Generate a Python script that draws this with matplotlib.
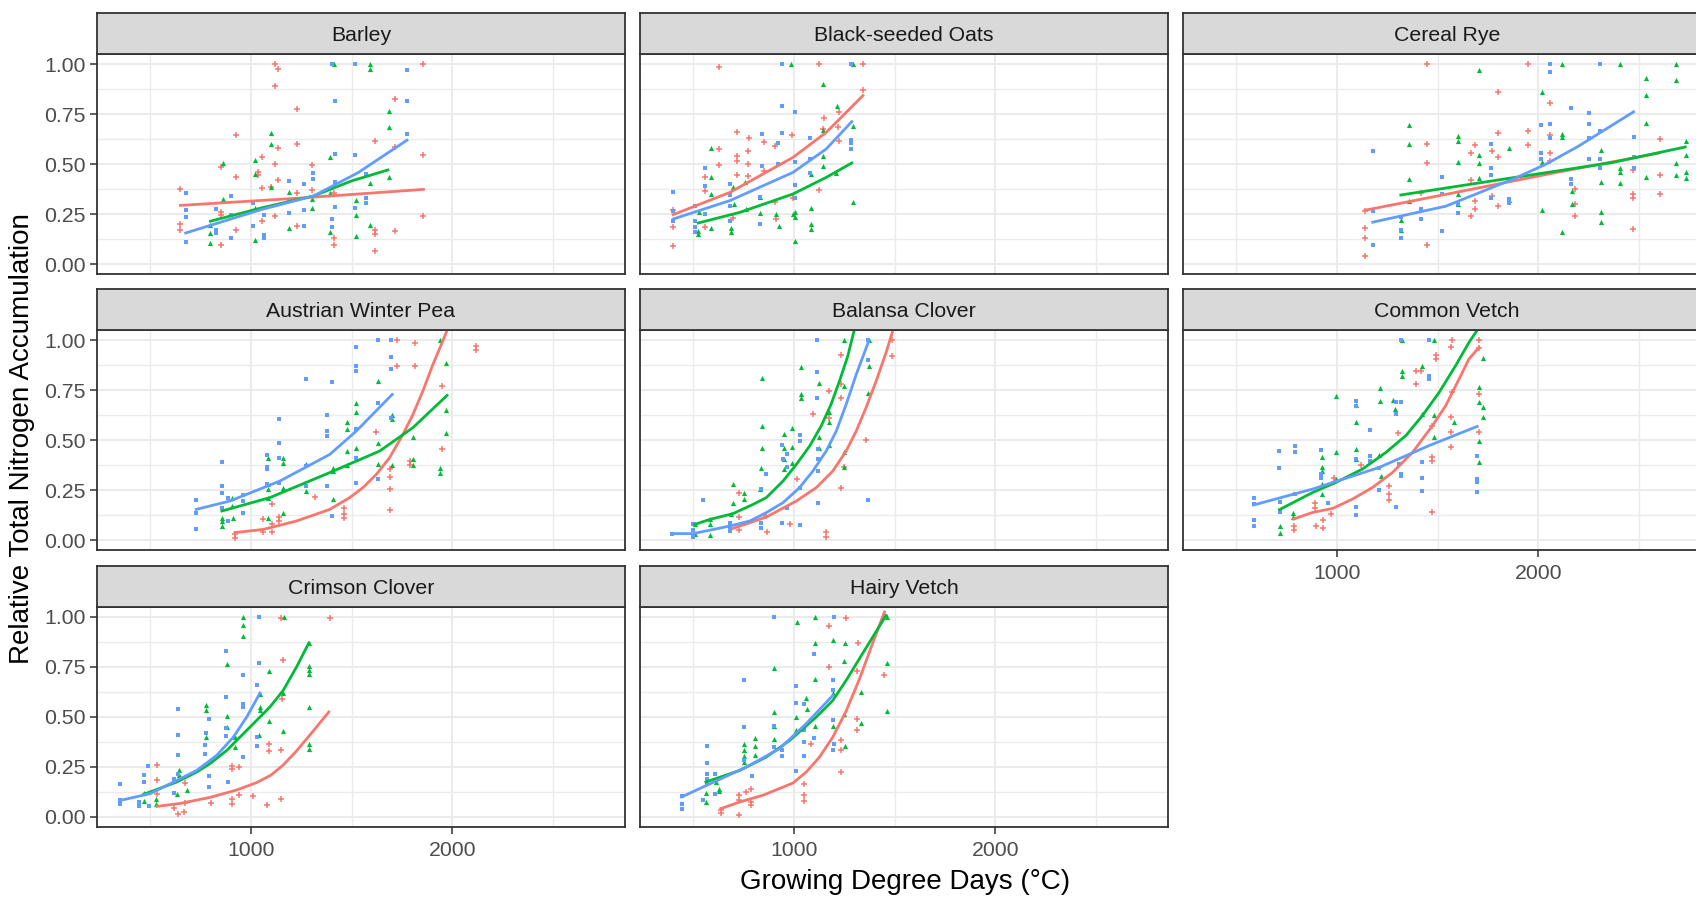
import matplotlib
matplotlib.use("Agg")
import matplotlib.pyplot as plt

plt.rcParams['font.family'] = ['Liberation Sans', 'DejaVu Sans']

# facet names, in facet_wrap order (3 columns)
panels = ["Barley", "Black-seeded Oats", "Cereal Rye",
          "Austrian Winter Pea", "Balansa Clover", "Common Vetch",
          "Crimson Clover", "Hairy Vetch"]
x_ticks = [1000, 2000]
x_minor = [500, 1500, 2500]
y_ticks = [0.00, 0.25, 0.50, 0.75, 1.00]
y_minor = [0.125, 0.375, 0.625, 0.875]
y_tick_labels = ["0.00", "0.25", "0.50", "0.75", "1.00"]
x_label = "Growing Degree Days (°C)"
y_label = "Relative Total Nitrogen Accumulation"

barley_red = [(1119, 1.0), (1133, .975), (1119, .888), (1227, .774), (928, .644), (1227, .602), (1133, .579),
              (1054, .537), (1119, .502), (1305, .493), (850, .485), (928, .435), (1037, .462), (1037, .445),
              (1133, .42), (1054, .378), (1099, .386), (1227, .356), (1305, .37), (650, .376), (850, .261),
              (850, .247), (928, .172), (1054, .217), (1119, .239), (1227, .189), (650, .202), (650, .169),
              (850, .094), (1413, .13), (1413, .094), (1614, .172), (1614, .15), (1614, .067), (1713, .167),
              (1713, .824), (1713, .587), (1614, .615), (1856, 1.0), (1856, .543), (1856, .239), (1413, .356)]
barley_green = [(1413, 1.0), (1590, 1.0), (1590, .975), (1684, .763), (1684, .687), (1099, .657), (1099, .602),
                (863, .503), (1020, .518), (1020, .448), (1099, .386), (1191, .361), (1305, .326), (1305, .281),
                (1392, .537), (1392, .356), (1520, .32), (1520, .247), (1590, .406), (1684, .435), (1590, .194),
                (1520, .139), (1392, .159), (1191, .181), (1020, .281), (1020, .119), (863, .323), (799, .197),
                (799, .155), (799, .105)]
barley_blue = [(1404, 1.0), (1515, 1.0), (1774, .97), (1418, .813), (1774, .816), (1774, .652), (1418, .552),
               (1515, .543), (1571, .448), (1307, .457), (1307, .423), (1187, .415), (1263, .398), (1418, .41),
               (901, .34), (828, .273), (901, .247), (676, .356), (676, .269), (676, .234), (676, .11), (828, .172),
               (828, .155), (901, .13), (1012, .306), (1012, .189), (1063, .247), (1063, .147), (1063, .13),
               (1187, .314), (1187, .256), (1263, .269), (1263, .189), (1404, .226), (1404, .186), (1418, .286),
               (1515, .278), (1571, .331), (1571, .306)]

oats_red = [(629, .983), (1122, 1.0), (1342, 1.0), (1342, .87), (715, .66), (777, .63), (629, .575), (715, .54),
            (715, .517), (772, .567), (772, .5), (629, .495), (850, .61), (908, .59), (992, .645), (1148, .73),
            (1221, .76), (1219, .687), (1223, .617), (1144, .675), (559, .437), (558, .367), (715, .445),
            (772, .438), (850, .463), (1122, .372), (401, .272), (401, .183), (401, .092), (559, .183),
            (695, .228), (913, .225), (995, .332), (908, .308)]
oats_green = [(987, 1.0), (1292, 1.0), (1142, .90), (1213, .79), (1142, .67), (1292, .69), (587, .58), (587, .437),
              (1142, .54), (1142, .49), (1210, .455), (1084, .45), (756, .41), (698, .383), (587, .35), (830, .333),
              (1292, .308), (701, .30), (764, .275), (830, .255), (1007, .258), (1084, .278), (913, .25),
              (926, .19), (995, .25), (1007, .233), (530, .258), (525, .167), (525, .15), (587, .18), (690, .18),
              (690, .158), (1084, .20), (1084, .175), (1007, .117)]
oats_blue = [(942, 1.0), (1284, 1.0), (942, .79), (1007, .76), (842, .65), (942, .653), (1081, .628), (921, .603),
             (1284, .62), (1284, .603), (1284, .575), (559, .48), (842, .488), (921, .5), (1007, .512),
             (1081, .525), (1081, .455), (401, .358), (559, .388), (685, .40), (830, .333), (1007, .395),
             (1007, .328), (401, .263), (401, .217), (508, .292), (559, .25), (685, .345), (685, .292),
             (508, .217), (508, .162), (685, .217), (830, .20), (508, .183)]

rye_red = [(1449, 1.0), (1949, 1.0), (1799, .861), (2056, .803), (1799, .657), (1949, .666), (1449, .602),
           (1449, .507), (1683, .594), (1663, .557), (1771, .565), (1799, .537), (1949, .594), (2056, .644),
           (2056, .557), (2056, .515), (1663, .42), (1683, .314), (1663, .239), (1683, .276), (1771, .339),
           (1799, .289), (1416, .356), (1449, .094), (1140, .264), (1140, .181), (1140, .13), (1140, .038),
           (2183, .373), (2183, .298), (2183, .239), (2468, .47), (2468, .348), (2468, .331), (2468, .176),
           (2604, .624), (2604, .443), (2604, .348)]
rye_green = [(2117, 1.0), (2402, 1.0), (2683, 1.0), (1705, .97), (2534, .93), (2683, .92), (2018, .86),
             (2534, .846), (2534, .704), (1355, .696), (1355, .602), (1602, .64), (1602, .615), (1705, .543),
             (1705, .507), (1602, .512), (1853, .582), (2117, .649), (2117, .637), (2310, .57), (2018, .512),
             (2310, .411), (2402, .482), (2402, .462), (2402, .406), (2534, .435), (2683, .507), (2683, .445),
             (2732, .615), (2732, .543), (2732, .462), (2732, .428), (1355, .426), (1355, .314), (1602, .351),
             (1602, .298), (1705, .431), (1853, .423), (1853, .318), (2018, .269), (2117, .161), (2167, .365),
             (2167, .298), (2310, .259), (2310, .209), (1317, .222), (1317, .172)]
rye_blue = [(2056, 1.0), (2056, .958), (2303, 1.0), (2162, .778), (2252, .753), (2252, .702), (2013, .696),
            (2056, .702), (2056, .632), (2303, .666), (2252, .632), (1762, .602), (2013, .557), (2013, .527),
            (2252, .527), (2303, .527), (2475, .635), (2475, .535), (2475, .478), (1177, .565), (1520, .435),
            (1762, .478), (1762, .443), (1853, .426), (2162, .423), (2162, .401), (2303, .482), (1520, .348),
            (1602, .298), (1602, .256), (1762, .328), (1853, .323), (1853, .306), (1416, .276), (1416, .227),
            (1317, .236), (1317, .172), (1317, .13), (1177, .264), (1177, .097), (1520, .167)]

pea_red = [(1726, 1.0), (1812, .987), (2117, .97), (2117, .95), (1726, .87), (1812, .87), (1947, .77),
           (1619, .54), (1947, .453), (1787, .395), (1787, .375), (1688, .353), (1688, .315), (1688, .253),
           (1688, .15), (1317, .215), (1106, .178), (1140, .115), (1140, .095), (1061, .103), (1106, .078),
           (1106, .042), (1061, .042), (1460, .158), (1460, .132), (1460, .108), (921, .028), (921, .008)]
pea_green = [(1940, 1.0), (1968, .883), (1632, .795), (1520, .683), (1520, .64), (1477, .59), (1477, .553),
             (1701, .625), (1701, .603), (1968, .65), (1968, .537), (1803, .515), (1632, .487), (1520, .462),
             (1477, .445), (1632, .382), (1701, .373), (1803, .403), (1803, .375), (1940, .362), (1940, .337),
             (1407, .358), (1407, .345), (1477, .373), (1275, .382), (1275, .245), (1160, .412), (1160, .387),
             (1084, .408), (1084, .282), (1084, .253), (1160, .258), (1084, .208), (908, .212), (908, .17),
             (856, .112), (856, .095), (856, .07), (912, .112), (1407, .203), (1084, .108), (1160, .133)]
pea_blue = [(1630, 1.0), (1696, 1.0), (1520, .965), (1696, .917), (1520, .87), (1520, .845), (1696, .853),
            (1271, .803), (1404, .792), (1140, .603), (1140, .483), (1375, .625), (1375, .545), (1375, .52),
            (1520, .553), (1630, .683), (1696, .612), (1520, .408), (1082, .425), (1082, .365), (1082, .353),
            (1140, .412), (1271, .37), (1375, .272), (1520, .287), (1630, .303), (1271, .27), (962, .225),
            (962, .195), (856, .39), (856, .27), (856, .237), (728, .2), (728, .133), (728, .057), (884, .212),
            (884, .095), (962, .137), (1082, .278), (1140, .287), (1404, .12), (856, .158)]

balansa_red = [(1485, 1.0), (1485, .92), (1234, .925), (1234, .778), (1234, .712), (1172, .745), (1172, .612),
               (1092, .628), (1358, .498), (1015, .303), (1234, .262), (1246, .365), (728, .237), (728, .115),
               (863, .12), (978, .078), (866, .042), (728, .048), (1157, .042), (1157, .017)]
balansa_green = [(1246, 1.0), (1371, 1.0), (1036, .867), (842, .812), (1371, .87), (1247, .77), (1368, .737),
                 (1036, .732), (1036, .708), (1122, .783), (1172, .642), (1172, .592), (842, .57), (949, .532),
                 (992, .558), (1122, .517), (842, .458), (949, .458), (992, .465), (1122, .458), (1172, .475),
                 (1247, .442), (1247, .365), (949, .403), (992, .387), (949, .353), (838, .358), (698, .278),
                 (751, .237), (751, .203), (698, .187), (833, .253), (690, .132), (583, .103), (583, .078),
                 (508, .078), (508, .028), (583, .025)]
balansa_blue = [(1115, 1.0), (1368, 1.0), (1368, .9), (1115, .842), (1115, .708), (1028, .523), (1028, .495),
                (942, .475), (965, .428), (946, .403), (965, .365), (863, .328), (1119, .453), (1119, .403),
                (1119, .345), (835, .257), (835, .087), (835, .058), (1028, .262), (965, .162), (942, .087),
                (1028, .075), (1119, .187), (1368, .2), (550, .198), (682, .087), (682, .062), (682, .045),
                (500, .078), (500, .048), (500, .015), (393, .032)]

vetch_red = [(1569, 1.0), (1705, 1.0), (1564, .963), (1490, .925), (1490, .905), (1705, .958), (1391, .843),
             (1417, .843), (1391, .778), (1569, .738), (1705, .73), (1474, .572), (1305, .535), (1564, .613),
             (1564, .538), (1705, .538), (1564, .463), (1474, .417), (1474, .397), (1119, .375), (987, .31),
             (987, .288), (1256, .268), (1256, .23), (1256, .202), (893, .185), (893, .158), (970, .13),
             (929, .102), (896, .072), (929, .058), (785, .068), (785, .052), (1470, .138)]
vetch_green = [(1483, 1.0), (1325, 1.0), (1726, .91), (1421, .868), (1322, .847), (1322, .818), (1216, .762),
               (1216, .695), (1705, .763), (1705, .692), (1724, .663), (1724, .613), (995, .718), (1094, .675),
               (1094, .592), (1280, .702), (1289, .655), (1421, .63), (1483, .627), (1483, .513), (1581, .588),
               (1705, .493), (1705, .388), (1094, .455), (1094, .405), (995, .438), (926, .413), (926, .363),
               (926, .347), (1210, .425), (1218, .322), (926, .28), (995, .305), (781, .135), (781, .113),
               (715, .068), (715, .035), (926, .23)]
vetch_blue = [(1317, 1.0), (1457, 1.0), (1457, .818), (1457, .805), (1094, .697), (1094, .672), (1292, .692),
              (1317, .692), (1292, .63), (1163, .552), (1094, .405), (1163, .422), (1163, .397), (711, .447),
              (792, .468), (792, .442), (921, .452), (711, .36), (921, .33), (921, .308), (1210, .36), (1309, .38),
              (1317, .33), (1317, .318), (1421, .392), (1421, .31), (1696, .422), (1696, .305), (1696, .288),
              (1696, .242), (1210, .25), (1421, .247), (792, .23), (586, .208), (586, .18), (586, .10), (586, .072),
              (718, .192), (718, .138), (954, .185), (1094, .163), (1094, .127), (1292, .167)]

crimson_red = [(1148, .997), (1391, .997), (1157, .787), (1155, .592), (1089, .363), (1089, .33), (1148, .337),
               (941, .25), (908, .253), (908, .242), (533, .262), (533, .183), (533, .117), (672, .17), (672, .07),
               (616, .047), (668, .025), (640, .013), (800, .07), (908, .088), (908, .063), (942, .112),
               (1012, .103), (1078, .058), (1148, .088)]
crimson_green = [(962, 1.0), (1163, 1.0), (962, .958), (962, .903), (883, .767), (1089, .73), (1287, .872),
                 (1287, .755), (1287, .733), (1287, .713), (1157, .62), (1045, .617), (1045, .55), (1045, .533),
                 (777, .558), (777, .533), (883, .503), (883, .45), (1089, .48), (1160, .428), (1041, .412),
                 (777, .4), (921, .4), (921, .35), (1287, .55), (1287, .363), (1287, .338), (642, .233),
                 (642, .208), (682, .137), (632, .117), (467, .12), (467, .078), (530, .088), (530, .067)]
crimson_blue = [(1040, 1.0), (878, .83), (1040, .77), (959, .708), (1028, .658), (878, .6), (959, .567),
                (959, .55), (639, .538), (790, .492), (639, .412), (776, .42), (875, .447), (875, .403), (772, .358),
                (772, .317), (639, .312), (794, .203), (794, .15), (490, .255), (469, .208), (469, .175),
                (1028, .4), (1028, .353), (959, .3), (888, .175), (639, .217), (619, .192), (619, .12), (348, .167),
                (352, .083), (352, .063), (442, .075), (442, .053), (492, .053)]

hairy_red = [(1259, .997), (1172, .953), (1320, .872), (1172, .75), (1449, .708), (1315, .728), (1234, .383),
             (1234, .333), (1086, .363), (1312, .492), (1312, .437), (1234, .225), (1049, .167), (1049, .108),
             (1049, .078), (728, .108), (728, .083), (761, .125), (786, .138), (786, .075), (786, .058),
             (728, .012), (637, .037), (637, .022)]
hairy_green = [(1106, 1.0), (1015, .975), (1462, 1.0), (1106, .872), (1193, .883), (1251, .87), (1247, .778),
               (1462, .772), (903, .745), (1106, .692), (1193, .62), (1333, .625), (1061, .595), (1064, .542),
               (901, .525), (1012, .5), (1193, .453), (1247, .513), (1333, .47), (1106, .453), (901, .453),
               (901, .392), (807, .397), (807, .355), (751, .367), (751, .333), (751, .303), (751, .275),
               (809, .308), (1012, .437), (1251, .353), (1460, .528), (611, .175), (629, .138), (629, .128),
               (563, .12), (563, .075)]
hairy_blue = [(901, 1.0), (1198, 1.0), (1099, .817), (751, .683), (1012, .653), (1193, .683), (1012, .572),
              (1049, .563), (1193, .637), (1193, .487), (1193, .333), (901, .455), (752, .45), (901, .35),
              (942, .333), (942, .303), (1049, .433), (1049, .375), (1049, .305), (1099, .397), (1198, .367),
              (566, .355), (566, .27), (566, .217), (566, .192), (566, .17), (607, .213), (607, .117), (550, .087),
              (442, .103), (442, .063), (442, .042), (1012, .23), (752, .283), (794, .205)]

# ---- fitted curves (GDD, predicted) ----
barley_red_fit = [(650, .293), (1250, .33), (1856, .373)]
barley_green_fit = [(799, .214), (1054, .281), (1310, .34), (1498, .415), (1679, .47)]
barley_blue_fit = [(676, .155), (1054, .273), (1310, .34), (1532, .457), (1774, .619)]

oats_red_fit = [(401, .247), (682, .358), (995, .533), (1160, .658), (1342, .842)]
oats_green_fit = [(525, .205), (731, .258), (995, .35), (1160, .433), (1287, .505)]
oats_blue_fit = [(401, .225), (682, .317), (995, .458), (1160, .575), (1287, .712)]

rye_red_fit = [(1140, .269), (1600, .36), (2100, .46), (2600, .555)]
rye_green_fit = [(1317, .345), (1870, .431), (2365, .507), (2728, .585)]
rye_blue_fit = [(1177, .209), (1540, .289), (1870, .423), (2035, .498), (2200, .59), (2472, .761)]

pea_red_fit = [(921, .037), (1061, .053), (1226, .095), (1391, .153), (1490, .212), (1556, .262), (1622, .328),
               (1688, .412), (1754, .528), (1804, .628), (1853, .745), (1903, .878), (1952, .995), (1985, 1.078)]
pea_green_fit = [(856, .145), (1094, .212), (1391, .337), (1639, .445), (1804, .562), (1973, .723)]
pea_blue_fit = [(728, .153), (896, .195), (1144, .295), (1391, .428), (1523, .545), (1701, .728)]

balansa_red_fit = [(698, .058), (863, .115), (1012, .195), (1111, .262), (1193, .345), (1259, .445),
                   (1309, .545), (1358, .662), (1408, .795), (1457, .937), (1490, 1.045)]
balansa_green_fit = [(508, .078), (583, .103), (698, .132), (797, .178), (863, .212), (946, .295), (1012, .378),
                     (1078, .47), (1135, .57), (1184, .678), (1226, .795), (1267, .92), (1300, 1.053)]
balansa_blue_fit = [(393, .032), (500, .032), (682, .07), (781, .095), (863, .137), (946, .187), (1028, .262),
                    (1094, .345), (1160, .445), (1210, .545), (1259, .678), (1309, .828), (1368, .987)]

vetch_red_fit = [(785, .105), (880, .138), (979, .158), (1078, .205), (1177, .263), (1276, .338), (1375, .438),
                 (1474, .572), (1540, .672), (1606, .805), (1655, .905), (1705, .963)]
vetch_green_fit = [(715, .152), (880, .238), (995, .288), (1127, .355), (1243, .438), (1342, .522),
                   (1424, .622), (1507, .738), (1589, .872), (1655, .988), (1700, 1.055)]
vetch_blue_fit = [(586, .175), (880, .255), (1210, .363), (1457, .472), (1696, .568)]

crimson_red_fit = [(533, .053), (649, .068), (797, .098), (929, .135), (1028, .172), (1100, .21), (1160, .26),
                   (1226, .33), (1309, .43), (1386, .525)]
crimson_green_fit = [(467, .113), (632, .175), (731, .225), (797, .267), (880, .333), (946, .4), (1028, .483),
                     (1094, .55), (1160, .633), (1226, .75), (1287, .87)]
crimson_blue_fit = [(352, .083), (500, .117), (632, .183), (731, .233), (830, .308), (913, .4), (979, .5),
                    (1045, .62)]

hairy_red_fit = [(637, .042), (731, .075), (850, .11), (995, .17), (1061, .225), (1127, .30), (1193, .40),
                 (1259, .53), (1325, .69), (1391, .87), (1449, 1.025)]
hairy_green_fit = [(563, .175), (731, .233), (863, .3), (979, .383), (1111, .5), (1193, .583), (1259, .683),
                   (1325, .792), (1391, .9), (1457, 1.008)]
hairy_blue_fit = [(442, .1), (566, .158), (764, .25), (929, .342), (1061, .467), (1193, .608)]

points = {
    "Barley": (barley_red, barley_green, barley_blue),
    "Black-seeded Oats": (oats_red, oats_green, oats_blue),
    "Cereal Rye": (rye_red, rye_green, rye_blue),
    "Austrian Winter Pea": (pea_red, pea_green, pea_blue),
    "Balansa Clover": (balansa_red, balansa_green, balansa_blue),
    "Common Vetch": (vetch_red, vetch_green, vetch_blue),
    "Crimson Clover": (crimson_red, crimson_green, crimson_blue),
    "Hairy Vetch": (hairy_red, hairy_green, hairy_blue),
}
fits = {
    "Barley": (barley_red_fit, barley_green_fit, barley_blue_fit),
    "Black-seeded Oats": (oats_red_fit, oats_green_fit, oats_blue_fit),
    "Cereal Rye": (rye_red_fit, rye_green_fit, rye_blue_fit),
    "Austrian Winter Pea": (pea_red_fit, pea_green_fit, pea_blue_fit),
    "Balansa Clover": (balansa_red_fit, balansa_green_fit, balansa_blue_fit),
    "Common Vetch": (vetch_red_fit, vetch_green_fit, vetch_blue_fit),
    "Crimson Clover": (crimson_red_fit, crimson_green_fit, crimson_blue_fit),
    "Hairy Vetch": (hairy_red_fit, hairy_green_fit, hairy_blue_fit),
}

# ggplot hue palette + shapes 3 / 17 / 15
colors = ["#F8766D", "#00BA38", "#619CFF"]
markers = ["+", "^", "s"]
msizes = [22, 14, 12]

W, H = 1696, 898
fig = plt.figure(figsize=(W / 100, H / 100), dpi=100)

col_left = [97, 640, 1183]
panel_w = 528
row_top = [54, 330, 607]
panel_h = 220
strip_h = 41
# panels that carry the x axis (bottom of each column)
x_axis_panels = {"Crimson Clover", "Hairy Vetch", "Common Vetch"}

for i, name in enumerate(panels):
    r, c = divmod(i, 3)
    left = col_left[c] / W
    bottom = 1 - (row_top[r] + panel_h) / H
    ax = fig.add_axes([left, bottom, panel_w / W, panel_h / H])
    ax.set_xlim(236, 2856)
    ax.set_ylim(-0.05, 1.05)
    ax.set_xticks(x_ticks)
    ax.set_xticks(x_minor, minor=True)
    ax.set_yticks(y_ticks)
    ax.set_yticks(y_minor, minor=True)
    ax.set_yticklabels(y_tick_labels)
    ax.grid(True, which="major", color="#EBEBEB", lw=1.4)
    ax.grid(True, which="minor", color="#EBEBEB", lw=1.0)
    ax.set_axisbelow(True)
    for sp in ax.spines.values():
        sp.set_color("#333333")
        sp.set_linewidth(1.3)
    ax.tick_params(which="minor", length=0)
    ax.tick_params(which="major", length=5, width=1.1, color="#333333",
                   labelsize=15.3, labelcolor="#4D4D4D", pad=3)
    ax.tick_params(axis="x", pad=5)
    if c != 0:
        ax.tick_params(left=False, labelleft=False)
    if name not in x_axis_panels:
        ax.tick_params(bottom=False, labelbottom=False)

    for k in range(3):
        pts = points[name][k]
        xs = [p[0] for p in pts]
        ys = [p[1] for p in pts]
        if markers[k] == "+":
            ax.scatter(xs, ys, marker="+", s=msizes[k], color=colors[k], linewidths=1.1, zorder=3)
        else:
            ax.scatter(xs, ys, marker=markers[k], s=msizes[k], color=colors[k], linewidths=0, zorder=3)
    for k in range(3):
        f = fits[name][k]
        ax.plot([p[0] for p in f], [p[1] for p in f], color=colors[k], lw=2.0, zorder=4)

    # facet strip
    sax = fig.add_axes([left, 1 - (row_top[r]) / H, panel_w / W, strip_h / H])
    sax.set_facecolor("#D9D9D9")
    sax.set_xticks([])
    sax.set_yticks([])
    for sp in sax.spines.values():
        sp.set_color("#333333")
        sp.set_linewidth(1.3)
    sax.text(0.5, 0.44, name, ha="center", va="center", fontsize=15.3,
             color="#1A1A1A", transform=sax.transAxes)

fig.text(905 / W, 1 - 882 / H, x_label, ha="center", va="center", fontsize=20)
fig.text(22 / W, 1 - 439 / H, y_label, ha="center", va="center", rotation=90, fontsize=20)

fig.savefig("out.png", dpi=100)
